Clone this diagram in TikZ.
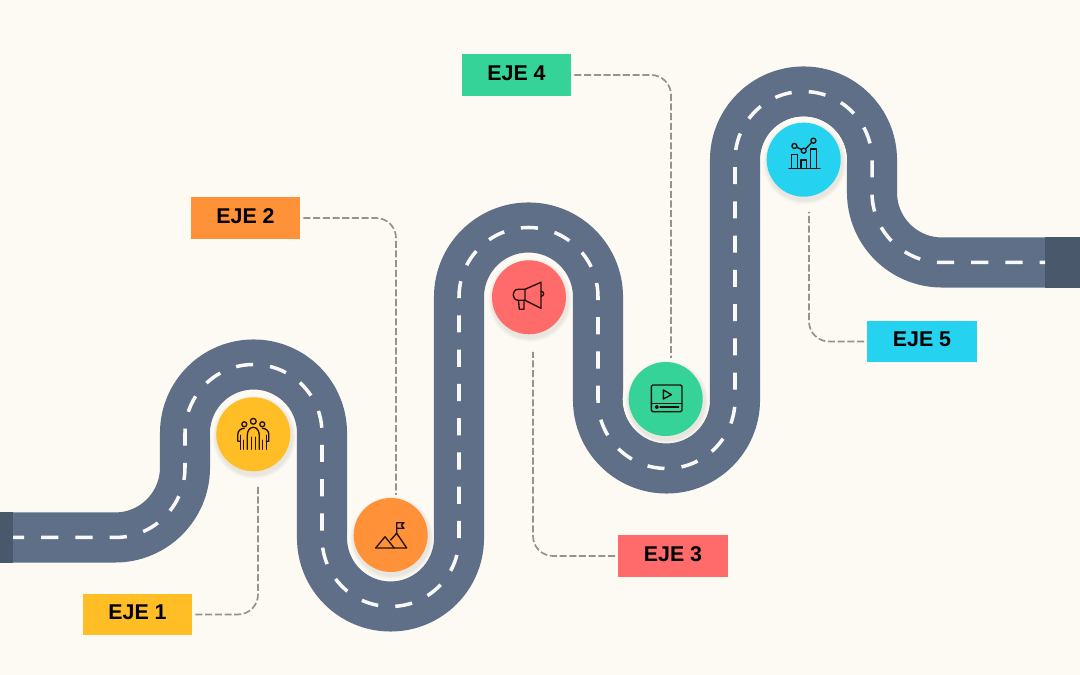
\documentclass[tikz,border=0pt]{standalone}
\usepackage{fontspec}
\setmainfont{Liberation Sans}
\definecolor{paper}{HTML}{FDF9F3}
\definecolor{asphalt}{HTML}{5F6F87}
\definecolor{roadend}{HTML}{4A586C}
\definecolor{leadergray}{HTML}{959391}
\definecolor{inkdark}{HTML}{241008}
\definecolor{ejeyellow}{HTML}{FFBD26}
\definecolor{ejeorange}{HTML}{FF9239}
\definecolor{ejered}{HTML}{FF6B6B}
\definecolor{ejegreen}{HTML}{36D399}
\definecolor{ejecyan}{HTML}{25D3F0}
\tikzset{
  stopdot/.style={circle,minimum size=1.85cm,inner sep=0pt},
  ejebox/.style={minimum width=2.74cm,minimum height=1.03cm,inner sep=0pt,text=black,text depth=2.8pt,font=\fontsize{15.2}{17}\selectfont\bfseries},
  leader/.style={draw=leadergray,line width=1.2pt,dash pattern=on 5pt off 1.9pt,rounded corners=0.5cm,shorten <=2pt},
  icon/.style={draw=inkdark,line width=0.95pt,line cap=round,line join=round}
}
\def\roadpath{(0,137.5) -- (115,137.5) arc[start angle=270,end angle=360,radius=70] -- (185,242) arc[start angle=180,end angle=0,radius=68.5] -- (322,137) arc[start angle=180,end angle=360,radius=68.5] -- (459,378) arc[start angle=180,end angle=0,radius=69.5] -- (598,275) arc[start angle=180,end angle=360,radius=68.5] -- (735,515) arc[start angle=180,end angle=0,radius=68.5] -- (872,482.5) arc[start angle=180,end angle=270,radius=70] -- (1080,412.5)}
\begin{document}
\begin{tikzpicture}[x=0.025cm,y=0.025cm]
\fill[paper] (0,0) rectangle (1080,675);
\useasboundingbox (0,0) rectangle (1080,675);
% road
\draw[asphalt,line width=35.6pt] \roadpath;
\fill[roadend] (0,112) rectangle (13,162.5);
\fill[roadend] (1045,387) rectangle (1080,438);
\begin{scope}
\clip (13,0) rectangle (1045,675);
\draw[white!96!asphalt,line width=2.5pt,dash pattern=on 12.18pt off 12.18pt,dash phase=19.4pt] \roadpath;
\end{scope}
% rings and soft shadows
\foreach \cx/\cy in {253.3/240.7,390.7/140,529/377.7,665.7/276,803.7/515.3} {
  \fill[paper] (\cx,\cy) circle (43);
  \foreach \rr in {41.5,40.5,39.5,38.5} {
    \fill[black,opacity=0.018] (\cx+1,\cy-3) circle (\rr);
  }
}
% stops
\node[stopdot,fill=ejeyellow] (stop1) at (253.3,240.7) {};
\node[stopdot,fill=ejeorange] (stop2) at (390.7,140) {};
\node[stopdot,fill=ejered] (stop3) at (529,377.7) {};
\node[stopdot,fill=ejegreen] (stop4) at (665.7,276) {};
\node[stopdot,fill=ejecyan] (stop5) at (803.7,515.3) {};
% labels
\node[ejebox,fill=ejeyellow] (eje1) at (137.5,60.5) {EJE 1};
\node[ejebox,fill=ejeorange] (eje2) at (245.5,457) {EJE 2};
\node[ejebox,fill=ejered] (eje3) at (673,119) {EJE 3};
\node[ejebox,fill=ejegreen] (eje4) at (516.5,600) {EJE 4};
\node[ejebox,fill=ejecyan] (eje5) at (922,333.5) {EJE 5};
% leaders
\coordinate (end1) at (258,188);
\coordinate (end2) at (396,180);
\coordinate (end3) at (533,323);
\coordinate (end4) at (671,317);
\coordinate (end5) at (809,463);
\draw[leader] (eje1) -| (end1);
\draw[leader] (eje2) -| (end2);
\draw[leader] (eje3) -| (end3);
\draw[leader] (eje4) -| (end4);
\draw[leader] (eje5) -| (end5);
% people
\begin{scope}[shift={(stop1)}]
\draw[icon] (0,13) circle (2.9);
\draw[icon] (-9,10) circle (2.5);
\draw[icon] (9,10) circle (2.5);
\draw[icon] (-6,-15) -- (-6,-1) to[out=90,in=180] (0,7) to[out=0,in=90] (6,-1) -- (6,-15);
\draw[icon] (-2,-15) -- (-2,-3);
\draw[icon] (2,-15) -- (2,-3);
\draw[icon] (-9,6) to[out=180,in=90] (-15.5,0) -- (-15.5,-7) -- (-13,-7);
\draw[icon] (9,6) to[out=0,in=90] (15.5,0) -- (15.5,-7) -- (13,-7);
\draw[icon] (-13,-15) -- (-13,-1);
\draw[icon] (13,-15) -- (13,-1);
\draw[icon] (-9.5,-15) -- (-9.5,-6);
\draw[icon] (9.5,-15) -- (9.5,-6);
\end{scope}
% mountains
\begin{scope}[shift={(stop2)}]
\draw[icon] (-15,-13) -- (16,-13) -- (6,1.7) -- (0,-5);
\draw[icon] (-15,-13) -- (-5.7,-1.7) -- (3.5,-13);
\draw[icon] (6,1.7) -- (6,12.3) -- (13.3,12.3) -- (10.6,9.7) -- (13.3,6.7) -- (6,6.7);
\end{scope}
% megaphone
\begin{scope}[shift={(stop3)}]
\draw[icon] (-4,8) -- (12,15) -- (12,-11) -- (-4,-3) -- cycle;
\draw[icon] (-4,8) -- (-10.7,8) to[out=180,in=180,looseness=1.6] (-10.7,-3) -- (-4,-3);
\draw[icon] (-10.5,-3) -- (-9.7,-12) -- (-5,-12) -- (-5,-3);
\draw[icon] (12,6) to[out=0,in=0,looseness=1.8] (12,1);
\end{scope}
% video
\begin{scope}[shift={(stop4)}]
\draw[icon,rounded corners=1pt] (-14.3,14) rectangle (16.3,-12.7);
\draw[icon] (-14.3,-4.3) -- (16.3,-4.3);
\draw[icon] (-2.3,9) -- (5.7,4.3) -- (-2.3,0) -- cycle;
\draw[icon] (-9,-8) circle (1.4);
\draw[icon] (-5.7,-8) -- (13,-8);
\end{scope}
% chart
\begin{scope}[shift={(stop5)}]
\draw[icon] (-14.7,-8.7) -- (16.3,-8.7);
\draw[icon] (-12.3,-8.7) rectangle (-6.3,5.3);
\draw[icon] (-2.7,-8.7) rectangle (3,-0.3);
\draw[icon] (7,-8.7) rectangle (13,10.7);
\draw[icon] (-9.3,13.7) circle (2.5);
\draw[icon] (0,9) circle (2.5);
\draw[icon] (9.7,19) circle (2.5);
\draw[icon] (-7,12.5) -- (-2.2,10.2);
\draw[icon] (1.8,10.8) -- (8,17.2);
\end{scope}
\end{tikzpicture}
\end{document}
